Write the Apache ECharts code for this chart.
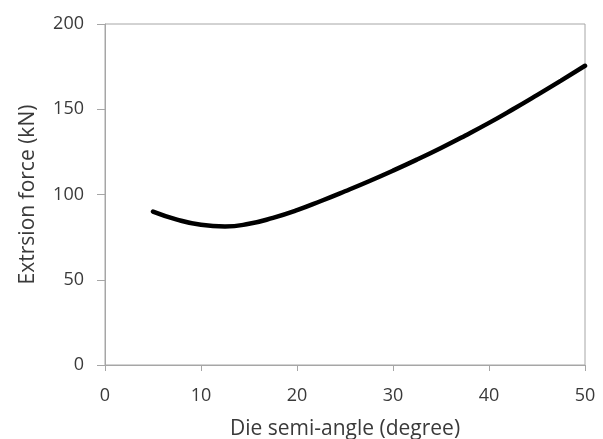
<!DOCTYPE html>
<html>
<head>
<meta charset="utf-8">
<script src="https://cdn.jsdelivr.net/npm/echarts@6/dist/echarts.min.js"></script>
<style>html,body{margin:0;padding:0;background:#fff}#c{width:603px;height:439px}</style>
</head>
<body>
<div id="c"></div>
<script>
const angles = [5, 7.5, 10, 12.5, 15, 17.5, 20, 22.5, 25, 27.5, 30, 32.5, 35, 37.5, 40, 42.5, 45, 47.5, 50];
const forces = [90, 85.3, 82.2, 81.2, 82.8, 86.3, 90.8, 96.2, 101.9, 107.8, 114, 120.5, 127.3, 134.5, 142, 150, 158.3, 166.8, 175.5];
const xTitle = 'Die semi-angle (degree)';
const yTitle = 'Extrsion force (kN)';

const chart = echarts.init(document.getElementById('c'), null, {renderer: 'canvas'});
const font = 'Open Sans';
const axisColor = '#a6a6a6';
const textColor = '#3a3a3a';
chart.setOption({
  animation: false,
  backgroundColor: '#ffffff',
  grid: {left: 105, right: 18, top: 24, bottom: 74, show: true, borderColor: axisColor, borderWidth: 1,
         containLabel: false, outerBoundsMode: 'none'},
  xAxis: {
    type: 'value', min: 0, max: 50, interval: 10,
    name: xTitle, nameLocation: 'middle', nameGap: 54,
    nameTextStyle: {fontFamily: font, fontSize: 21, color: textColor},
    axisLine: {lineStyle: {color: axisColor, width: 1}},
    axisTick: {show: true, length: 6, inside: false, lineStyle: {color: axisColor}},
    axisLabel: {fontFamily: font, fontSize: 18, color: textColor, margin: 22},
    splitLine: {show: false}
  },
  yAxis: {
    type: 'value', min: 0, max: 200, interval: 50,
    name: yTitle, nameLocation: 'middle', nameGap: 66,
    nameTextStyle: {fontFamily: font, fontSize: 21, color: textColor},
    axisLine: {show: true, lineStyle: {color: axisColor, width: 1}},
    axisTick: {show: true, length: 8, inside: false, lineStyle: {color: axisColor}},
    axisLabel: {fontFamily: font, fontSize: 18, color: textColor, margin: 21},
    splitLine: {show: false}
  },
  series: [{
    type: 'line',
    data: angles.map((a, i) => [a, forces[i]]),
    smooth: true,
    showSymbol: false,
    lineStyle: {color: '#000000', width: 4.5, cap: 'round'}
  }]
});
</script>
</body>
</html>
